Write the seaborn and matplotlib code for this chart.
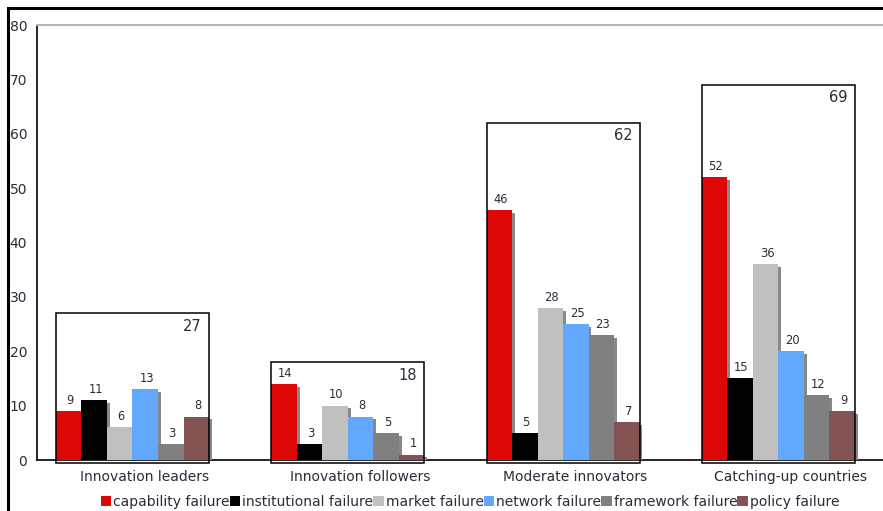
import numpy as np
import pandas as pd
import matplotlib.pyplot as plt
import matplotlib.patheffects as pe
from matplotlib.patches import Patch, Rectangle
import seaborn as sns

categories = ["Innovation leaders", "Innovation followers", "Moderate innovators", "Catching-up countries"]
failures = ["capability failure", "institutional failure", "market failure",
            "network failure", "framework failure", "policy failure"]
capability = [9, 14, 46, 52]
institutional = [11, 3, 5, 15]
market = [6, 10, 28, 36]
network = [13, 8, 25, 20]
framework = [3, 5, 23, 12]
policy = [8, 1, 7, 9]
totals = [27, 18, 62, 69]

colors = ["#dd0806", "#000000", "#c0c0c0", "#62a8ff", "#808080", "#845454"]
txt = "#2e2a3a"

# layout of the bars inside each category slot
left_pad = 0.088
bar_w = 0.1185

series = [capability, institutional, market, network, framework, policy]
rows = []
for k, (name, vals) in enumerate(zip(failures, series)):
    for i, v in enumerate(vals):
        rows.append({"pos": i + left_pad + (k + 0.5) * bar_w, "value": v, "failure": name})
df = pd.DataFrame(rows)

sns.set_style("white")
plt.rcParams["font.family"] = ["DejaVu Sans"]

fig = plt.figure(figsize=(8.83, 5.11), dpi=100)
ax = fig.add_axes([37 / 883, 1 - 460 / 511, 4 * 215.3 / 883, 435 / 511])

sns.barplot(data=df, x="pos", y="value", hue="failure", hue_order=failures,
            palette=dict(zip(failures, colors)), native_scale=True, orient="x",
            dodge=False, width=1, saturation=1, errorbar=None, legend=False,
            linewidth=0, ax=ax, zorder=3)

for p in ax.patches:
    p.set_path_effects([pe.SimplePatchShadow(offset=(2, -2), shadow_rgbFace="#888888", alpha=1),
                        pe.Normal()])

# value labels
for _, r in df.iterrows():
    ax.annotate(str(r["value"]), (r["pos"], r["value"]), xytext=(1, 3),
                textcoords="offset points", ha="center", va="bottom",
                fontsize=8.3, color=txt, zorder=5)

# group boxes with totals
for i, t in enumerate(totals):
    x0 = i + left_pad
    ax.add_patch(Rectangle((x0, -0.6), 6 * bar_w, t + 0.6, fill=False,
                           edgecolor="black", lw=1.1, clip_on=False, zorder=4))
    ax.annotate(str(t), (x0 + 6 * bar_w, t), xytext=(-5, -4),
                textcoords="offset points", ha="right", va="top",
                fontsize=10.5, color=txt, zorder=5)

ax.set_xlim(0, 4)
ax.set_ylim(0, 80)
ax.set_yticks(range(0, 81, 10))
ax.set_xticks([i + 0.5 for i in range(4)])
ax.set_xticklabels(categories)
ax.set_xticks(range(0, 5), minor=True)
ax.tick_params(axis="x", which="major", length=0, pad=7, labelsize=10, labelcolor=txt)
ax.tick_params(axis="x", which="minor", length=4, width=1, color="black", direction="out")
ax.tick_params(axis="y", length=4, width=1, color="black", direction="out",
               labelsize=10, labelcolor=txt, pad=3)
ax.set_xlabel("")
ax.set_ylabel("")

for s in ["left", "bottom"]:
    ax.spines[s].set_color("black")
    ax.spines[s].set_linewidth(1.2)
ax.spines["right"].set_visible(False)
ax.spines["top"].set_color("#b4b4b4")
ax.spines["top"].set_linewidth(1.5)

# outer frame (cropped chart border)
fig.patches.append(Rectangle((8 / 883, -0.2), 1.2, 1.2 - 8 / 511, transform=fig.transFigure,
                             fill=False, edgecolor="black", lw=2.2, zorder=10))

handles = [Patch(facecolor=c, edgecolor="none") for c in colors]
fig.legend(handles, failures, loc="center", bbox_to_anchor=(470 / 883, 1 - 502 / 511),
           ncol=6, frameon=False, fontsize=10, handlelength=0.75, handleheight=0.75,
           handletextpad=0.15, columnspacing=0.0, labelcolor=txt, borderpad=0)

fig.savefig("out.png", dpi=100)
